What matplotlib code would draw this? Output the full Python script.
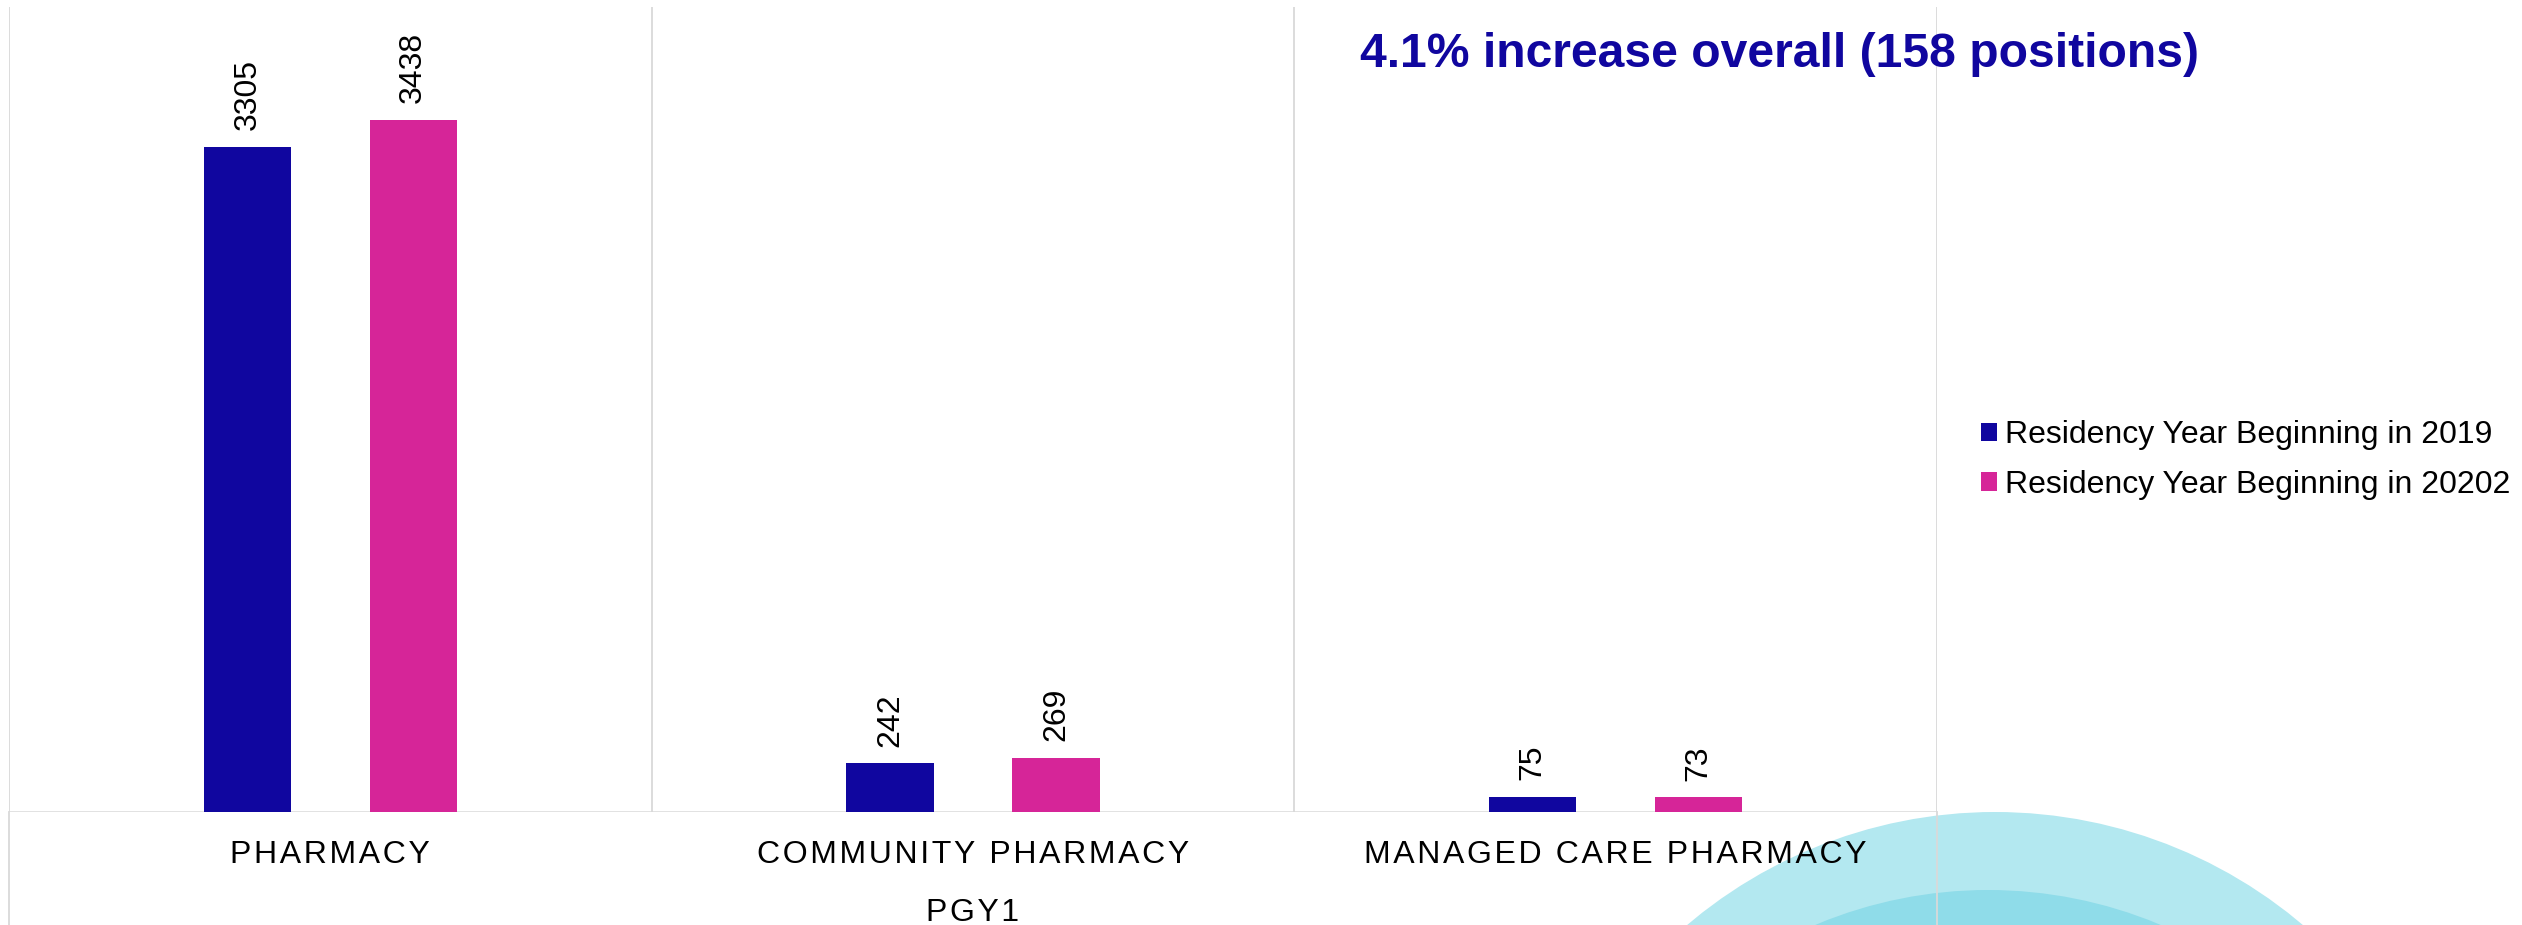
import matplotlib.pyplot as plt
from matplotlib.patches import Circle
import numpy as np

plt.rcParams['font.family'] = ['Liberation Sans', 'DejaVu Sans']

categories = ['PHARMACY', 'COMMUNITY PHARMACY', 'MANAGED CARE PHARMACY']
group_label = 'PGY1'
series_names = ['Residency Year Beginning in 2019', 'Residency Year Beginning in 20202']
positions_2019 = [3305, 242, 75]
positions_2020 = [3438, 269, 73]
headline = '4.1% increase overall (158 positions)'

blue = '#10069f'
pink = '#d62598'
grid_grey = '#d9d9d9'

fig = plt.figure(figsize=(25.22, 9.25), dpi=100)

# background rings in the lower right, in pixel units
bg = fig.add_axes([0, 0, 1, 1], zorder=-1)
bg.set_xlim(0, 2522)
bg.set_ylim(925, 0)
bg.axis('off')
bg.add_patch(Circle((1995, 1288), 476, color='#b3e8f0', lw=0))
bg.add_patch(Circle((1988, 1335), 445, color='#8fdce9', lw=0))

ax = fig.add_axes([9 / 2522, (925 - 812) / 925, (1937 - 9) / 2522, (812 - 7) / 925])
ax.patch.set_alpha(0)

x = np.arange(len(categories))
w = 0.136
off = 0.129
b1 = ax.bar(x - off, positions_2019, w, color=blue, label=series_names[0], zorder=3)
b2 = ax.bar(x + off, positions_2020, w, color=pink, label=series_names[1], zorder=3)

for bars in (b1, b2):
    for r in bars:
        ax.annotate(str(int(r.get_height())), (r.get_x() + r.get_width() / 2, r.get_height()),
                    xytext=(0, 12), textcoords='offset points', rotation=90,
                    ha='center', va='bottom', fontsize=23, color='black')

ax.set_xlim(-0.5, len(categories) - 0.5)
ax.set_ylim(0, 4000)

# category gridlines between groups
for gx in np.arange(-0.5, len(categories), 1.0):
    ax.axvline(gx, color=grid_grey, lw=1.3, zorder=1)
# outer dividers run down past the labels
for gx in (0.0, 1.0):
    ax.plot([gx, gx], [0, -0.15], transform=ax.transAxes, color=grid_grey, lw=1.3, clip_on=False)

for s in ax.spines.values():
    s.set_visible(False)
ax.axhline(0, color=grid_grey, lw=1.8, zorder=2)

ax.set_yticks([])
spaced = ['\u200a'.join(c) for c in categories]
ax.set_xticks(x)
ax.set_xticklabels(spaced, fontsize=23)
ax.tick_params(axis='x', length=0, pad=20)

ax.text(1, -0.107, '\u200a'.join(group_label), transform=ax.get_xaxis_transform(),
        ha='center', va='top', fontsize=23)

fig.text(1360 / 2522, 1 - 67 / 925, headline, ha='left', va='baseline',
         fontsize=34.6, fontweight='bold', color=blue)

ax.legend(loc='upper left', bbox_to_anchor=(1981 / 2522, 1 - 420 / 925),
          bbox_transform=fig.transFigure, frameon=False, fontsize=23,
          handlelength=0.5, handleheight=0.5, handletextpad=0.25,
          labelspacing=0.62, borderpad=0, borderaxespad=0)

fig.savefig('out.png', dpi=100)
